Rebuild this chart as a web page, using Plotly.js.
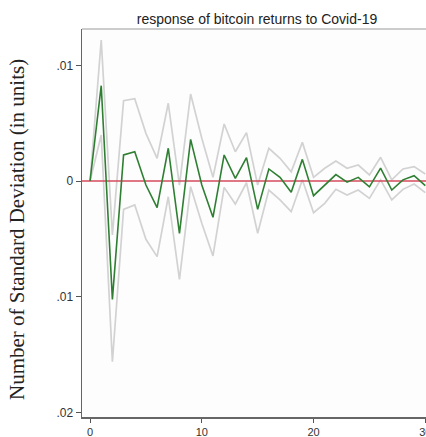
<!DOCTYPE html>
<html>
<head>
<meta charset="utf-8">
<script src="https://cdn.plot.ly/plotly-3.0.1.min.js"></script>
<style>
html,body{margin:0;padding:0;overflow:hidden;background:#fff;width:426px;height:437px;}
#chart{width:436px;height:437px;}
</style>
</head>
<body>
<div id="chart"></div>
<script>
const steps = [0,1,2,3,4,5,6,7,8,9,10,11,12,13,14,15,16,17,18,19,20,21,22,23,24,25,26,27,28,29,30];
const irf = [0,0.00824,-0.01023,0.00225,0.00253,-0.00035,-0.0023,0.00283,-0.00452,0.0036,-0.00035,-0.00314,0.00225,0.00023,0.00202,-0.00245,0.00104,0.00032,-0.00098,0.00187,-0.00127,-0.0004,0.00055,-0.0001,0.00032,-0.0005,0.00112,-0.00078,0.0001,0.00046,-0.0004];
const upper = [0,0.01219,-0.00467,0.00694,0.00711,0.00412,0.00196,0.00672,-0.00035,0.00752,0.00369,0.00032,0.00493,0.00253,0.00418,-0.00035,0.00283,0.00196,0.0008,0.00334,0.00032,0.0011,0.00173,0.0011,0.00138,0.00052,0.00205,0.0001,0.00104,0.00124,0.0006];
const lower = [0,0.00398,-0.01562,-0.00245,-0.00207,-0.00504,-0.00654,-0.00136,-0.0085,-0.00049,-0.00366,-0.00648,-0.00055,-0.00199,-0.00015,-0.00452,-0.00078,-0.00164,-0.00265,0.0001,-0.00274,-0.00193,-0.00072,-0.00121,-0.00078,-0.0015,0.0001,-0.00164,-0.00072,-0.00026,-0.00101];
const yTickVals = [0.01,0,-0.01,-0.02];
const yTickText = [".01","0",".01",".02"];
const xTickVals = [0,10,20,30];
const titleText = "response of bitcoin returns to Covid-19";
const yTitleText = "Number of Standard Deviation (in units)";

const traces = [
  {x: steps, y: upper, mode: 'lines', line: {color: '#d2d2d2', width: 1.7}, hoverinfo: 'skip'},
  {x: steps, y: lower, mode: 'lines', line: {color: '#d2d2d2', width: 1.7}, hoverinfo: 'skip'},
  {x: [-0.72, 31], y: [0, 0], mode: 'lines', line: {color: '#d44a5c', width: 1.5}, hoverinfo: 'skip'},
  {x: steps, y: irf, mode: 'lines', line: {color: '#2f7f33', width: 1.6}}
];

const layout = {
  width: 436, height: 437,
  margin: {l: 82, r: 4, t: 29, b: 20},
  paper_bgcolor: '#ffffff', plot_bgcolor: '#fdfdfd',
  showlegend: false,
  font: {family: 'Liberation Sans, Arial, sans-serif', color: '#333'},
  title: {text: titleText, font: {family: 'Liberation Sans, Arial, sans-serif', size: 14, color: '#222'},
          x: 0.5, xref: 'paper', y: 1 - 19/437, yref: 'container', xanchor: 'center', yanchor: 'middle'},
  xaxis: {range: [-0.72, 30.6], tickvals: xTickVals, ticks: 'outside', ticklen: 4, tickwidth: 1, tickcolor: '#555',
          showline: true, linecolor: '#666', linewidth: 1.5, showgrid: false, zeroline: false,
          tickfont: {size: 11, color: '#333'}},
  yaxis: {range: [-0.0204, 0.01314], tickvals: yTickVals, ticktext: yTickText, ticks: 'outside', ticklen: 5,
          tickwidth: 1, tickcolor: '#555', showline: true, linecolor: '#666', linewidth: 1.5, showgrid: false,
          zeroline: false, tickfont: {size: 12, color: '#333'}},
  shapes: [{type: 'line', xref: 'paper', yref: 'paper', x0: 0, x1: 1, y0: 1, y1: 1, line: {color: '#bbbbbb', width: 1.5}}],
  annotations: [{text: yTitleText, textangle: -90, xref: 'paper', yref: 'paper', x: -65/350, y: (417-230)/388,
                 xanchor: 'center', yanchor: 'middle', showarrow: false,
                 font: {family: 'Liberation Serif, Times New Roman, serif', size: 21, color: '#222'}}]
};

Plotly.newPlot('chart', traces, layout, {displayModeBar: false, staticPlot: true});
</script>
</body>
</html>
